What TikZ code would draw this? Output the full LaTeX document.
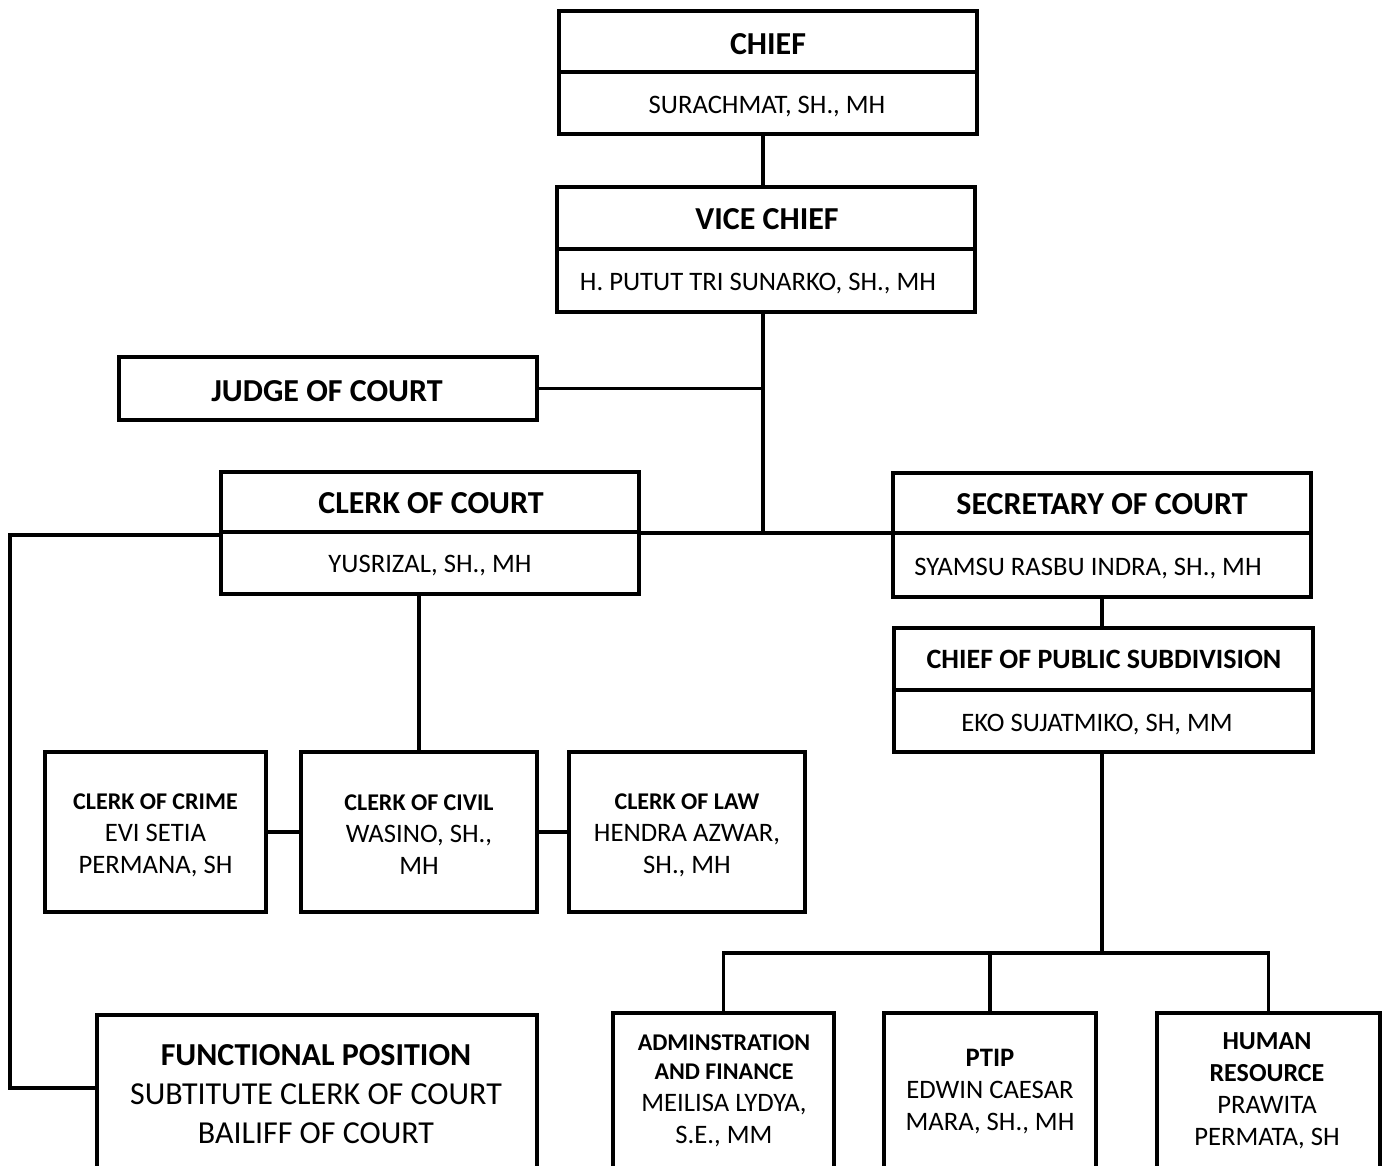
\documentclass[tikz,border=0pt]{standalone}
\usepackage{fontspec}
\setmainfont{Carlito}
\newcommand{\fsA}{\fontsize{24}{29}\selectfont}
\newcommand{\fsB}{\fontsize{20}{24}\selectfont}
\newcommand{\fsC}{\fontsize{18}{22}\selectfont}
\newcommand{\fsD}{\fontsize{18}{22}\selectfont}
\newcommand{\bx}[5]{\node[boxst, minimum width={(#4-#2)*0.75pt}, minimum height={(#5-#3)*0.75pt}] (#1) at ({(#2+#4)/2},{(#3+#5)/2}) {};}
\tikzset{
  boxst/.style={draw=black, line width=2.4pt, rectangle, inner sep=0pt, outer sep=0pt, fill=none},
  conn/.style={draw=black, line width=2.4pt},
  lbl/.style={inner sep=0pt, align=center, text=black}
}
\begin{document}
\begin{tikzpicture}[x=0.75pt, y=-0.75pt]
\useasboundingbox (0,0) rectangle (1382,1166);
\clip (0,0) rectangle (1382,1166);
\fill[white] (0,0) rectangle (1382,1166);
% boxes
\bx{chiefT}{559}{11}{977}{72}
\bx{chiefN}{559}{72}{977}{134}
\bx{viceT}{557}{187}{975}{249}
\bx{viceN}{557}{249}{975}{312}
\bx{judge}{119}{357}{537}{420}
\bx{clerkT}{221}{472}{639}{532}
\bx{clerkN}{221}{532}{639}{594}
\bx{secT}{893}{473}{1311}{533}
\bx{secN}{893}{533}{1311}{597}
\bx{cpsT}{894}{628}{1313}{690}
\bx{cpsN}{894}{690}{1313}{752}
\bx{crime}{45}{752}{266}{912}
\bx{civil}{301}{752}{537}{912}
\bx{law}{569}{752}{805}{912}
\bx{func}{97}{1015}{537}{1200}
\bx{admin}{613}{1013}{834}{1200}
\bx{ptip}{884}{1013}{1096}{1200}
\bx{hr}{1157}{1013}{1380}{1200}
% texts
\node[lbl, font=\fsA\bfseries] (tChief) at (768,44) {CHIEF};
\node[lbl, font=\fsB] (tSura) at (767,107) {SURACHMAT, SH., MH};
\node[lbl, font=\fsA\bfseries] (tVice) at (767,219) {VICE CHIEF};
\node[lbl, font=\fsB] (tPutut) at (758,284) {H. PUTUT TRI SUNARKO, SH., MH};
\node[lbl, font=\fsA\bfseries] (tJudge) at (327,391) {JUDGE OF COURT};
\node[lbl, font=\fsA\bfseries] (tClerk) at (431,503) {CLERK OF COURT};
\node[lbl, font=\fsB] (tYus) at (430,566) {YUSRIZAL, SH., MH};
\node[lbl, font=\fsA\bfseries] (tSec) at (1102,504) {SECRETARY OF COURT};
\node[lbl, font=\fsB] (tSyam) at (1088,569) {SYAMSU RASBU INDRA, SH., MH};
\node[lbl, font=\fontsize{21}{25}\selectfont\bfseries] (tCps) at (1104,659) {CHIEF OF PUBLIC SUBDIVISION};
\node[lbl, font=\fsB] (tEko) at (1097,725) {EKO SUJATMIKO, SH, MM};
\node[lbl, font=\fsB] (tCrime) at (155.5,835) {{\fsC\bfseries CLERK OF CRIME}\\EVI SETIA\\PERMANA, SH};
\node[lbl, font=\fsB] (tCivil) at (419,835) {{\fsC\bfseries CLERK OF CIVIL}\\WASINO, SH.,\\MH};
\node[lbl, font=\fsB] (tLaw) at (687,835) {{\fsC\bfseries CLERK OF LAW}\\HENDRA AZWAR,\\SH., MH};
\node[lbl, font=\fsA] (tFunc) at (316,1094) {{\bfseries FUNCTIONAL POSITION}\\SUBTITUTE CLERK OF COURT\\BAILIFF OF COURT};
\node[lbl, font=\fsB] (tAdmin) at (724,1091) {{\fsD\bfseries ADMINSTRATION}\\[-2pt]{\fsD\bfseries AND FINANCE}\\MEILISA LYDYA,\\S.E., MM};
\node[lbl, font=\fsB] (tPtip) at (990,1092) {{\bfseries PTIP}\\EDWIN CAESAR\\MARA, SH., MH};
\node[lbl, font=\fsB] (tHr) at (1267,1091) {{\fontsize{19.5}{24}\selectfont\bfseries HUMAN}\\{\fontsize{19.5}{24}\selectfont\bfseries RESOURCE}\\PRAWITA\\PERMATA, SH};
% connectors
\coordinate (j1) at (763,533);
\coordinate (l1) at (10,535);
\coordinate (l2) at (10,1088);
\coordinate (bus) at (1102,953);
\draw[conn] (chiefN.south -| j1) -- (viceT.north -| j1);
\draw[conn] (viceN.south -| j1) -- (j1);
\draw[conn] (judge.east) -- (judge.east -| j1);
\draw[conn] (clerkN.east |- j1) -- (secN.west |- j1);
\draw[conn] (clerkN.west |- l1) -- (l1) -- (l2) -- (func.west |- l2);
\draw[conn] (civil.north |- clerkN.south) -- (civil.north);
\draw[conn] (crime.east) -- (civil.west);
\draw[conn] (civil.east) -- (law.west);
\draw[conn] (secN.south) -- (secN.south |- cpsT.north);
\draw[conn] (cpsN.south -| bus) -- (bus);
\draw[conn] (admin.north) |- (bus) -| (hr.north);
\draw[conn] (ptip.north) -- (ptip.north |- bus);
\end{tikzpicture}
\end{document}
